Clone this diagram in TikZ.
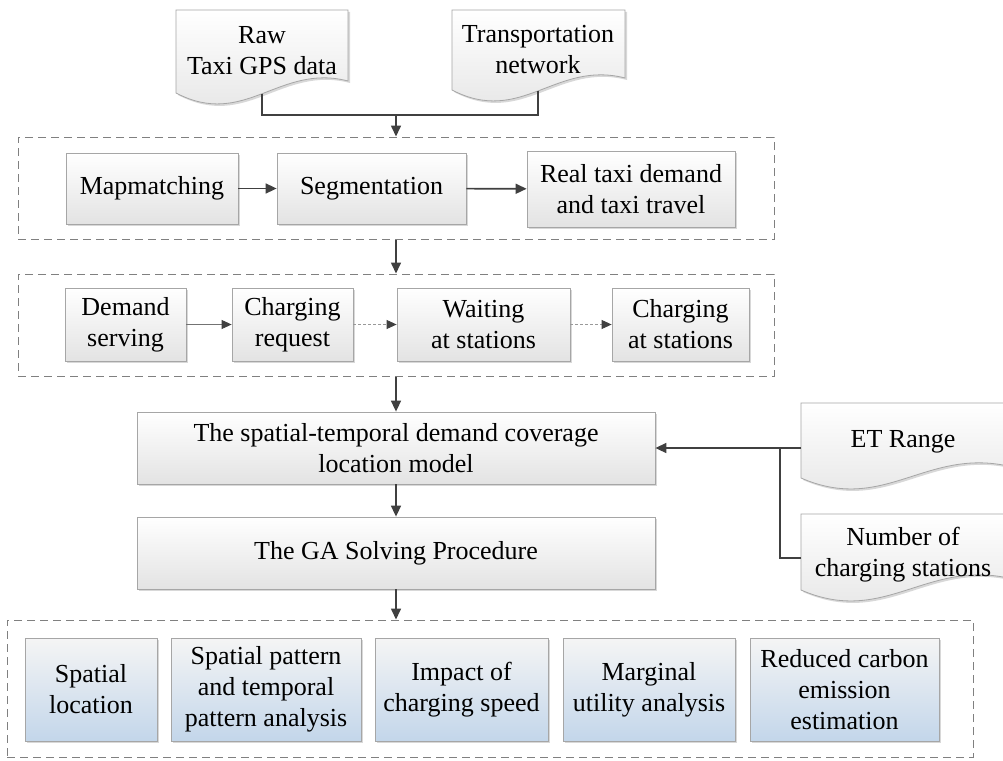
\documentclass[tikz,border=0pt]{standalone}
\usepackage{fontspec}
\setmainfont{Liberation Serif}
\usetikzlibrary{arrows.meta,shadows}
\definecolor{bordc}{HTML}{A6A6A6}
\definecolor{arrc}{HTML}{404040}
\definecolor{blu}{HTML}{C3D6EA}
\definecolor{grp}{HTML}{808080}
\tikzset{
  txt/.style={align=center, inner sep=0pt, font=\fontsize{26}{31}\selectfont, text=black},
  box/.style={txt, draw=bordc, line width=0.8pt, top color=white, bottom color=black!11,
    drop shadow={shadow xshift=2pt, shadow yshift=-2pt, opacity=0.3, fill=black!50}},
  bluebox/.style={box, top color=black!4, bottom color=blu},
  docshp/.style={draw=bordc, line width=0.8pt, top color=white, bottom color=black!11,
    drop shadow={shadow xshift=2pt, shadow yshift=-2pt, opacity=0.3, fill=black!50}},
  grpbox/.style={draw=grp, line width=1pt, dash pattern=on 8pt off 5pt, inner sep=0pt},
  arr/.style={draw=arrc, line width=1.6pt, -{Triangle[length=11pt,width=10pt]}},
  thinarr/.style={draw=black!55, line width=0.9pt, -{Triangle[length=10pt,width=9pt,color=arrc]}},
  dotarr/.style={thinarr, draw=black!40, dash pattern=on 3pt off 2pt},
  conn/.style={draw=arrc, line width=1.6pt},
}
\newcommand{\docshape}[4]{%
  \path[docshp] (#1,#3) -- (#2,#3) -- (#2,{#4-12})
    .. controls ({#1+0.6*(#2-#1)},{#4-30}) and ({#1+0.4*(#2-#1)},{#4+36}) .. (#1,#4) -- cycle;}
\begin{document}
\begin{tikzpicture}[x=1pt,y=-1pt]
\useasboundingbox (0,0) rectangle (1003,760);
\clip (0,0) rectangle (1003,760);
\fill[white] (0,0) rectangle (1003,760);

% documents
\docshape{176}{348}{10}{93}
\docshape{452}{625}{10}{90}
\docshape{801}{1008}{403}{478}
\docshape{801}{1008}{514}{590}
\node[txt] (raw) at (262,51) {Raw\\Taxi GPS data};
\node[txt] (tnet) at (538,50) {Transportation\\network};
\node[txt] (etr) at (903,442) {ET Range};
\node[txt] (ncs) at (903,555) {Number of\\charging stations};
\coordinate (rawb) at (262,94);
\coordinate (tnetb) at (538,91);
\coordinate (topj) at (396,115);
\coordinate (etl) at (801,448);
\coordinate (ncl) at (801,558);
\coordinate (sidej) at (780,448);

% dashed groups
\node[grpbox, minimum width=756pt, minimum height=102pt] (grp1) at (396,188) {};
\node[grpbox, minimum width=756pt, minimum height=102pt] (grp2) at (396,325) {};
\node[grpbox, minimum width=966pt, minimum height=137pt] (grp3) at (490,688.5) {};

% row 1
\node[box, minimum width=172pt, minimum height=71pt] (mapm) at (152,188.5) {Mapmatching};
\node[box, minimum width=189pt, minimum height=71pt] (segm) at (371.5,188.5) {Segmentation};
\node[box, minimum width=208pt, minimum height=76pt] (real) at (631,189) {Real taxi demand\\and taxi travel};

% row 2
\node[box, minimum width=121pt, minimum height=73pt] (dem) at (125.5,324.5) {Demand\\serving};
\node[box, minimum width=121pt, minimum height=73pt] (creq) at (292.5,324.5) {Charging\\request};
\node[box, minimum width=173pt, minimum height=73pt] (wait) at (483.5,324.5) {Waiting\\at stations};
\node[box, minimum width=137pt, minimum height=73pt] (chst) at (680.5,324.5) {Charging\\at stations};

% model and GA
\node[box, minimum width=518pt, minimum height=72pt] (model) at (396,448) {The spatial-temporal demand coverage\\location model};
\node[box, minimum width=518pt, minimum height=72pt] (ga) at (396,553) {The GA Solving Procedure};

% bottom row
\node[bluebox, minimum width=132pt, minimum height=103pt] (sl) at (91,689.5) {Spatial\\location};
\node[bluebox, minimum width=190pt, minimum height=103pt] (sp) at (266,689.5) {Spatial pattern\\and temporal\\pattern analysis};
\node[bluebox, minimum width=173pt, minimum height=103pt] (imp) at (461.5,689.5) {Impact of\\charging speed};
\node[bluebox, minimum width=172pt, minimum height=103pt] (marg) at (649,689.5) {Marginal\\utility analysis};
\node[bluebox, minimum width=189pt, minimum height=103pt] (red) at (844.5,689.5) {Reduced carbon\\emission\\estimation};

% connectors
\draw[conn] (rawb) |- (topj) -| (tnetb);
\draw[arr] (topj) -- (grp1.north);
\draw[arr] (mapm) -- (segm);
\draw[arr] (segm) -- (real);
\draw[arr] (grp1.south) -- (grp2.north);
\draw[thinarr] (dem) -- (creq);
\draw[dotarr] (creq) -- (wait);
\draw[dotarr] (wait) -- (chst);
\draw[arr] (grp2.south) -- (model.north);
\draw[arr] (model.south) -- (ga.north);
\draw[arr] (ga.south) -- (ga.south |- grp3.north);
\draw[arr] (etl) -- (model.east);
\draw[conn] (ncl) -| (sidej);
\end{tikzpicture}
\end{document}
